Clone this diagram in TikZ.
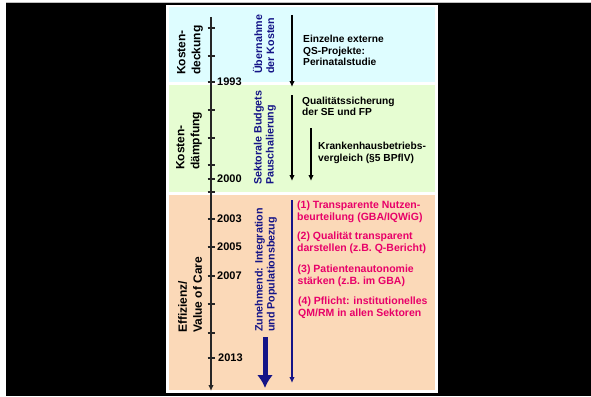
\documentclass[tikz,border=0pt]{standalone}
\usepackage{fontspec}
\setmainfont{Liberation Sans}
\usetikzlibrary{arrows.meta}
\definecolor{kostcyan}{RGB}{222,253,255}
\definecolor{kostgreen}{RGB}{230,253,210}
\definecolor{effpeach}{RGB}{251,217,184}
\definecolor{navyblue}{RGB}{20,20,135}
\definecolor{qmpink}{RGB}{232,0,105}

\begin{document}
\begin{tikzpicture}[x=1pt,y=-1pt,>={Latex[length=6pt,width=5.5pt]},
  year node/.style={anchor=west,inner sep=0pt,font=\fontsize{11}{12}\selectfont\bfseries},
  phase node/.style={rotate=90,anchor=west,align=left,inner sep=0pt,font=\fontsize{12}{15}\selectfont\bfseries},
  trend node/.style={rotate=90,anchor=west,align=left,inner sep=0pt,text=navyblue,font=\fontsize{10.7}{12}\selectfont\bfseries},
  info node/.style={anchor=west,align=left,inner sep=0pt,font=\fontsize{10.2}{11.6}\selectfont\bfseries},
  goal node/.style={info node,text=qmpink,font=\fontsize{10.5}{11.8}\selectfont\bfseries}]

  \useasboundingbox (0,0) rectangle (591,396);
  \fill[black] (6,2.5) rectangle (591,396);
  \draw[gray!50,line width=0.8] (6,2.5) -- (591,2.5);
  \fill[white] (166,5) rectangle (437.5,392.5);
  \fill[kostcyan] (169,7.5) rectangle (434.5,82);
  \fill[kostgreen] (169,85) rectangle (434.5,192);
  \fill[effpeach] (169,195) rectangle (434.5,390);

  \coordinate (axtop) at (211,17);
  \coordinate (axbot) at (211,391);
  \draw[->,line width=1.7,black!85] (axtop) -- (axbot);
  \foreach \ty in {28,56,82,110,138,165,179,192,219,247,276,304,333,358}
    \draw[line width=1.3,black!85] (207.5,\ty) -- (214.5,\ty);

  \node[year node] (y1993) at (217,82) {1993};
  \node[year node] (y2000) at (217,179) {2000};
  \node[year node] (y2003) at (217,219) {2003};
  \node[year node] (y2005) at (217,247) {2005};
  \node[year node] (y2007) at (217,276) {2007};
  \node[year node] (y2013) at (218,358) {2013};

  \node[phase node] (deckung) at (190,75) {Kosten-\\deckung};
  \node[phase node] (daempfung) at (189,170) {Kosten-\\dämpfung};
  \node[phase node] (effizienz) at (190,333) {Effizienz/\\Value of Care};

  \node[trend node] (uebernahme) at (263.5,74) {Übernahme\\der Kosten};
  \node[trend node] (sektoral) at (265,185) {Sektorale Budgets\\Pauschalierung};
  \node[trend node] (zunehmend) at (266,332) {Zunehmend: Integration\\und Populationsbezug};

  \node[info node] (externe) at (303,50.7) {Einzelne externe\\QS-Projekte:\\Perinatalstudie};
  \node[info node] (qualsich) at (302,106.5) {Qualitätssicherung\\der SE und FP};
  \node[info node] (khvergleich) at (318,153) {Krankenhausbetriebs-\\vergleich (§5 BPflV)};

  \node[goal node] (ziel1) at (297,212) {(1) Transparente Nutzen-\\beurteilung (GBA/IQWiG)};
  \node[goal node] (ziel2) at (297,243) {(2) Qualität transparent\\darstellen (z.B. Q-Bericht)};
  \node[goal node] (ziel3) at (297.5,275.5) {(3) Patientenautonomie\\stärken (z.B. im GBA)};
  \node[goal node] (ziel4) at (298,307.5) {(4) Pflicht: institutionelles\\QM/RM in allen Sektoren};

  \coordinate (deckstart) at (292,15);
  \coordinate (deckend) at (292,87);
  \coordinate (daempstart) at (292,95);
  \coordinate (daempend) at (292,181);
  \coordinate (khstart) at (311,128);
  \coordinate (khend) at (311,181);
  \coordinate (effstart) at (292,200);
  \coordinate (effend) at (292,383);
  \coordinate (trendstart) at (265,337);
  \coordinate (trendend) at (265,388);

  \path[->,line width=1.3]
       (deckstart) edge (deckend)
       (daempstart) edge (daempend)
       (khstart) edge (khend);
  \path[->,line width=1.3,navyblue]
       (effstart) edge (effend);
  \draw[-{Latex[length=13pt,width=16pt]},line width=5,navyblue] (trendstart) -- (trendend);
\end{tikzpicture}
\end{document}
